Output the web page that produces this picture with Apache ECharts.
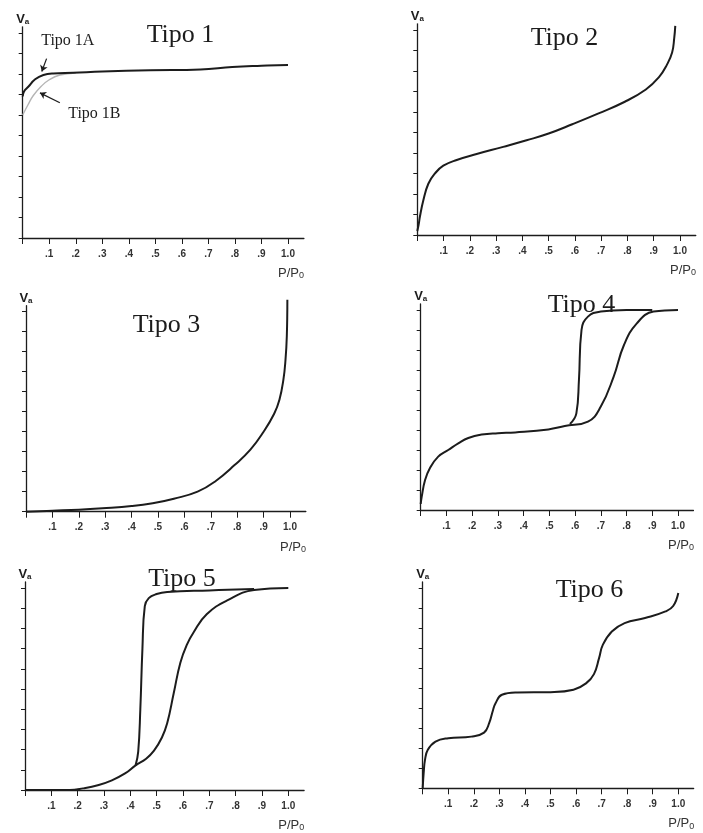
<!DOCTYPE html>
<html>
<head>
<meta charset="utf-8">
<script src="https://cdn.jsdelivr.net/npm/echarts@6/dist/echarts.min.js"></script>
<style>
  html, body { margin: 0; padding: 0; background: #fff; }
  #chart { width: 703px; height: 833px; }
</style>
</head>
<body>
<div id="chart"></div>
<script>
// Relative pressure ticks (P/P0) and adsorbed-volume ticks (Va)
const xTicks = [0, 0.1, 0.2, 0.3, 0.4, 0.5, 0.6, 0.7, 0.8, 0.9, 1.0];
const xTickLabels = ['', '.1', '.2', '.3', '.4', '.5', '.6', '.7', '.8', '.9', '1.0'];
const yTicks = [0, 1, 2, 3, 4, 5, 6, 7, 8, 9, 10];

const titles = ['Tipo 1', 'Tipo 2', 'Tipo 3', 'Tipo 4', 'Tipo 5', 'Tipo 6'];

// Isotherm curves: [P/P0, Va]
const tipo1A = [[0,6.9],[0.005,7.15],[0.021,7.38],[0.047,7.74],[0.078,7.95],[0.115,8.03],[0.19,8.06],[0.3,8.12],[0.48,8.18],[0.67,8.22],[0.79,8.34],[0.9,8.4],[1.0,8.44]];
const tipo1B = [[0,6.0],[0.02,6.5],[0.04,6.95],[0.07,7.4],[0.1,7.72],[0.14,7.95],[0.2,8.05]];
const tipo2 = [[0,0.2],[0.005,0.5],[0.01,0.9],[0.023,1.7],[0.042,2.5],[0.067,3.0],[0.099,3.38],[0.15,3.66],[0.226,3.95],[0.327,4.3],[0.416,4.62],[0.5,4.95],[0.59,5.4],[0.69,5.93],[0.79,6.5],[0.87,7.1],[0.92,7.7],[0.95,8.3],[0.97,8.9],[0.978,9.6],[0.982,10.2]];
const tipo3 = [[0,0],[0.1,0.05],[0.2,0.1],[0.29,0.17],[0.4,0.28],[0.48,0.42],[0.56,0.65],[0.65,1.0],[0.72,1.55],[0.79,2.33],[0.85,3.1],[0.9,4.0],[0.94,4.9],[0.96,5.6],[0.975,6.6],[0.983,7.6],[0.988,8.8],[0.99,10.6]];
const tipo4Ads = [[0,0.3],[0.004,0.67],[0.017,1.5],[0.036,2.1],[0.068,2.67],[0.107,3.0],[0.146,3.33],[0.185,3.6],[0.237,3.77],[0.3,3.84],[0.367,3.88],[0.496,4.03],[0.56,4.2],[0.65,4.42],[0.7,5.17],[0.75,6.67],[0.79,8.25],[0.84,9.33],[0.905,9.92],[1.0,10]];
const tipo4Des = [[0.58,4.3],[0.605,4.83],[0.615,6.5],[0.625,9.0],[0.65,9.67],[0.7,9.92],[0.8,10],[0.9,10]];
const tipo5Ads = [[0,0],[0.17,0],[0.22,0.08],[0.28,0.25],[0.33,0.48],[0.38,0.82],[0.42,1.22],[0.46,1.55],[0.49,1.95],[0.52,2.6],[0.54,3.3],[0.565,4.8],[0.59,6.3],[0.615,7.2],[0.64,7.8],[0.69,8.7],[0.77,9.4],[0.87,9.9],[1.0,10]];
const tipo5Des = [[0.42,1.22],[0.43,1.9],[0.438,4.0],[0.446,7.0],[0.455,9.1],[0.47,9.5],[0.5,9.7],[0.54,9.8],[0.7,9.88],[0.87,9.95]];
const tipo6 = [[0,0],[0.004,0.8],[0.009,1.42],[0.02,1.92],[0.05,2.33],[0.1,2.5],[0.19,2.58],[0.24,2.78],[0.26,3.25],[0.275,3.9],[0.285,4.25],[0.31,4.67],[0.37,4.78],[0.5,4.8],[0.59,4.92],[0.64,5.25],[0.67,5.7],[0.69,6.5],[0.705,7.17],[0.74,7.83],[0.79,8.25],[0.87,8.5],[0.95,8.83],[0.98,9.1],[1.0,9.75]];

// Pixel frames of each panel: x of P/P0 = 0 and 1.0, y of Va = 0 and 10
const frames = [
  { x0: 22.7,  x1: 288,   y0: 238,   y10: 33 },
  { x0: 417.3, x1: 680,   y0: 235,   y10: 30 },
  { x0: 26,    x1: 290,   y0: 511.7, y10: 311.7 },
  { x0: 420.7, x1: 678,   y0: 510,   y10: 310 },
  { x0: 25,    x1: 288.3, y0: 790,   y10: 588 },
  { x0: 422.7, x1: 678.3, y0: 788.3, y10: 588 }
];
const X_MAX = 1.06;
const Y_MAX = 10.3;

const INK = '#1c1c1c';
const SERIF = '"Liberation Serif", "DejaVu Serif", serif';
const SANS = '"Liberation Sans", "DejaVu Sans", sans-serif';

const grids = [], xAxes = [], yAxes = [], titleOpts = [], graphics = [];

frames.forEach((f, i) => {
  const w = (f.x1 - f.x0) * X_MAX;
  const h = (f.y0 - f.y10) * Y_MAX / 10;
  grids.push({ left: f.x0, top: f.y0 - h, width: w, height: h, containLabel: false });

  xAxes.push({
    type: 'value', gridIndex: i, min: 0, max: X_MAX,
    axisLine: { show: true, onZero: false, lineStyle: { color: INK, width: 1.3 } },
    axisTick: { show: true, customValues: xTicks, length: 6, lineStyle: { color: INK, width: 1 } },
    axisLabel: {
      show: true, customValues: xTicks.slice(1), margin: 11,
      fontSize: 10, fontFamily: SANS, color: '#333', fontWeight: 'bold',
      formatter: v => xTickLabels[Math.round(v * 10)]
    },
    splitLine: { show: false }
  });

  yAxes.push({
    type: 'value', gridIndex: i, min: 0, max: Y_MAX,
    name: '{v|V}{a|a}', nameLocation: 'end', nameGap: 1,
    nameTextStyle: {
      rich: {
        v: { fontSize: 13, fontFamily: SANS, color: INK, fontWeight: 'bold' },
        a: { fontSize: 8, fontFamily: SANS, color: INK, fontWeight: 'bold', padding: [5, 0, 0, 0] }
      }
    },
    axisLine: { show: true, onZero: false, lineStyle: { color: INK, width: 1.3 } },
    axisTick: { show: true, customValues: yTicks, length: 4, lineStyle: { color: INK, width: 1 } },
    axisLabel: { show: false },
    splitLine: { show: false }
  });

  graphics.push({
    type: 'text', left: f.x1 - 10, top: f.y0 + 29,
    style: {
      text: '{p|P/P}{o|0}',
      rich: {
        p: { fontSize: 13, fontFamily: SANS, fill: '#333' },
        o: { fontSize: 9, fontFamily: SANS, fill: '#333', padding: [5, 0, 0, 0] }
      }
    }
  });
});

const titleAnchors = [[175.5, 17], [559.5, 20], [161.5, 307], [576.5, 287], [177, 561], [584.5, 572]];
titles.forEach((t, i) => {
  titleOpts.push({
    text: t, left: titleAnchors[i][0], top: titleAnchors[i][1], textAlign: 'center',
    textStyle: { fontFamily: SERIF, fontSize: 26, fontWeight: 'normal', color: INK }
  });
});

function curve(data, idx, color, width) {
  return {
    type: 'line', xAxisIndex: idx, yAxisIndex: idx, data: data,
    smooth: 0.45, symbol: 'none', clip: false,
    lineStyle: { color: color || INK, width: width || 2 },
    silent: true, animation: false
  };
}

const labelStyle = { fontFamily: SERIF, fontSize: 16, color: INK };

const series = [
  curve(tipo1B, 0, '#b5b5b5', 1.4),
  Object.assign(curve(tipo1A, 0), {
    markLine: {
      silent: true, animation: false,
      symbol: ['none', 'arrow'], symbolSize: 6,
      lineStyle: { color: INK, width: 1.2, type: 'solid' },
      label: { show: false },
      data: [
        [{ coord: [0.09, 8.75] }, { coord: [0.072, 8.12] }],
        [{ coord: [0.14, 6.6] }, { coord: [0.065, 7.08] }]
      ]
    },
    markPoint: {
      silent: true, animation: false, symbol: 'rect', symbolSize: 1,
      itemStyle: { color: 'rgba(0,0,0,0)' },
      label: { show: true, position: 'inside', ...labelStyle, formatter: p => p.name },
      data: [
        { name: 'Tipo 1A', coord: [0.17, 9.6] },
        { name: 'Tipo 1B', coord: [0.27, 6.05] }
      ]
    }
  }),
  curve(tipo2, 1),
  curve(tipo3, 2),
  curve(tipo4Ads, 3),
  curve(tipo4Des, 3),
  curve(tipo5Ads, 4),
  curve(tipo5Des, 4),
  curve(tipo6, 5)
];

const chart = echarts.init(document.getElementById('chart'), null, { renderer: 'canvas' });
chart.setOption({
  backgroundColor: '#fff',
  animation: false,
  title: titleOpts,
  grid: grids,
  xAxis: xAxes,
  yAxis: yAxes,
  graphic: graphics,
  series: series
});
</script>
</body>
</html>
